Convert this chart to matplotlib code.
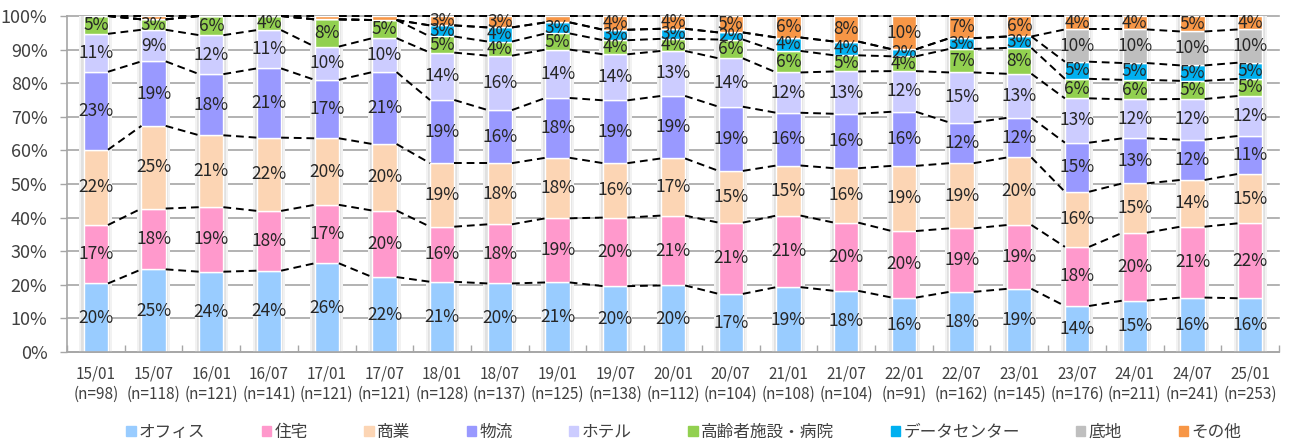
import matplotlib
matplotlib.use("Agg")
import matplotlib.pyplot as plt
from matplotlib.patches import Rectangle
import numpy as np

plt.rcParams['font.family'] = ['Noto Sans CJK JP', 'DejaVu Sans']

# Survey periods and number of responses
periods = ['15/01', '15/07', '16/01', '16/07', '17/01', '17/07', '18/01', '18/07',
           '19/01', '19/07', '20/01', '20/07', '21/01', '21/07', '22/01', '22/07',
           '23/01', '23/07', '24/01', '24/07', '25/01']
responses = [98, 118, 121, 141, 121, 121, 128, 137, 125, 138, 112, 104, 108, 104,
             91, 162, 145, 176, 211, 241, 253]

# Share of each asset type (%), bottom to top
office = [20.4, 24.6, 23.9, 24.2, 26.4, 22.3, 20.9, 20.4, 20.7, 19.6, 19.8, 17.3,
          19.3, 18.2, 16.2, 17.9, 18.8, 13.7, 15.3, 16.2, 16.0]
residential = [17.4, 18.1, 19.2, 17.8, 17.4, 19.8, 16.4, 17.6, 19.1, 20.4, 20.8, 21.2,
               21.3, 20.3, 19.8, 18.9, 19.0, 17.6, 20.2, 21.1, 22.3]
commercial = [22.4, 24.6, 21.4, 21.8, 19.8, 19.8, 18.9, 18.2, 18.0, 16.2, 17.0, 15.4,
              14.9, 16.2, 19.4, 19.4, 20.1, 16.4, 14.7, 13.9, 14.7]
logistics = [23.2, 19.2, 18.2, 20.6, 17.4, 21.4, 18.8, 15.8, 17.8, 18.7, 18.6, 19.1,
             15.7, 16.2, 16.1, 12.1, 11.8, 14.6, 13.4, 12.0, 11.3]
hotel = [11.3, 9.4, 11.6, 11.4, 9.9, 10.1, 14.1, 16.2, 14.4, 13.7, 13.4, 14.4,
         12.0, 12.6, 12.1, 14.9, 13.1, 13.2, 11.6, 12.1, 11.9]
elderly = [5.3, 3.1, 5.7, 4.2, 8.1, 5.4, 4.8, 4.2, 4.8, 4.2, 3.6, 5.6,
           6.4, 4.8, 4.4, 7.0, 7.7, 5.8, 5.8, 5.4, 5.1]
datacenter = [0, 0, 0, 0, 0, 0, 3.3, 4.2, 3.3, 3.1, 3.0, 2.1,
              4.0, 4.1, 2.1, 3.2, 3.4, 5.1, 5.0, 4.6, 4.8]
land = [0, 0, 0, 0, 0, 0, 0, 0, 0, 0, 0, 0,
        0, 0, 0, 0, 0, 9.6, 10.0, 10.1, 9.9]
other = [0, 1.0, 0, 0, 1.0, 1.2, 2.8, 3.4, 1.9, 4.1, 3.8, 4.9,
         6.4, 7.6, 9.9, 6.6, 6.1, 4.0, 4.0, 4.6, 4.0]

series_names = ['オフィス', '住宅', '商業', '物流', 'ホテル', '高齢者施設・病院',
                'データセンター', '底地', 'その他']
series_values = [office, residential, commercial, logistics, hotel, elderly,
                 datacenter, land, other]
series_colors = ['#99CCFF', '#FF99CC', '#FCD5B4', '#9999FF', '#CCCCFF', '#92D050',
                 '#00B0F0', '#BFBFBF', '#F79646']

W, H = 1290, 446
fig = plt.figure(figsize=(W / 100, H / 100), dpi=100)
ax = fig.add_axes([67 / W, 1 - 352 / H, (1279 - 67) / W, (352 - 16) / H])

x = np.arange(len(periods))
bw = 0.42
data = np.array(series_values, dtype=float)
totals = data.sum(axis=0)

# horizontal gridlines
for yv in range(0, 101, 10):
    ax.axhline(yv, color='#A6A6A6', lw=1.2, zorder=0, clip_on=False)

# soft shadow behind each column
ax.bar(x, totals, width=bw + 0.15, color='#F2F2F2', zorder=1, linewidth=0)
ax.bar(x, totals, width=bw + 0.08, color='#E0E0E0', zorder=1.1, linewidth=0)

bottom = np.zeros(len(periods))
tops = []
for name, vals, col in zip(series_names, data, series_colors):
    ax.bar(x, vals, width=bw, bottom=bottom, color=col, edgecolor='white',
           linewidth=1.0, zorder=2, label=name)
    for xi, b, v in zip(x, bottom, vals):
        if v >= 2.0:
            ax.text(xi, b + v / 2, f'{v:.0f}%', ha='center', va='center',
                    fontsize=12.5, color='#262626', zorder=5)
    bottom = bottom + vals
    tops.append(bottom.copy())

# series lines joining each segment top between neighbouring columns
for top in tops:
    for i in range(len(periods) - 1):
        ax.plot([x[i] + bw / 2, x[i + 1] - bw / 2], [top[i], top[i + 1]],
                color='black', lw=1.4, dashes=(4, 2.5), zorder=3,
                solid_capstyle='butt', dash_capstyle='butt', clip_on=False)

ax.set_xlim(-0.5, len(periods) - 0.5)
ax.set_ylim(0, 100)
ax.set_yticks(range(0, 101, 10))
ax.set_yticklabels([f'{v}%' for v in range(0, 101, 10)], fontsize=13, color='#404040')
ax.set_xticks(x)
ax.set_xticklabels([f'{p}\n(n={n})' for p, n in zip(periods, responses)],
                   fontsize=11, color='#404040', linespacing=1.25)
ax.set_xticks(np.arange(-0.5, len(periods), 1.0), minor=True)
ax.tick_params(axis='x', which='major', length=0, pad=10)
ax.tick_params(axis='x', which='minor', direction='in', length=5, color='#A6A6A6', width=1)
ax.tick_params(axis='y', length=5, color='#A6A6A6', width=1, pad=9)

for s in ['top', 'right']:
    ax.spines[s].set_visible(False)
for s in ['left', 'bottom']:
    ax.spines[s].set_color('#A6A6A6')
    ax.spines[s].set_linewidth(1.2)
ax.set_facecolor('none')

handles = [Rectangle((0, 0), 1, 1, color=c) for c in series_colors]
fig.legend(handles, series_names, loc='center', bbox_to_anchor=(0.530, 0.031),
           ncol=9, frameon=False, fontsize=12, handlelength=0.55, handleheight=0.55,
           handletextpad=0.2, columnspacing=3.4, labelcolor='#404040')

fig.savefig('out.png', dpi=100)
